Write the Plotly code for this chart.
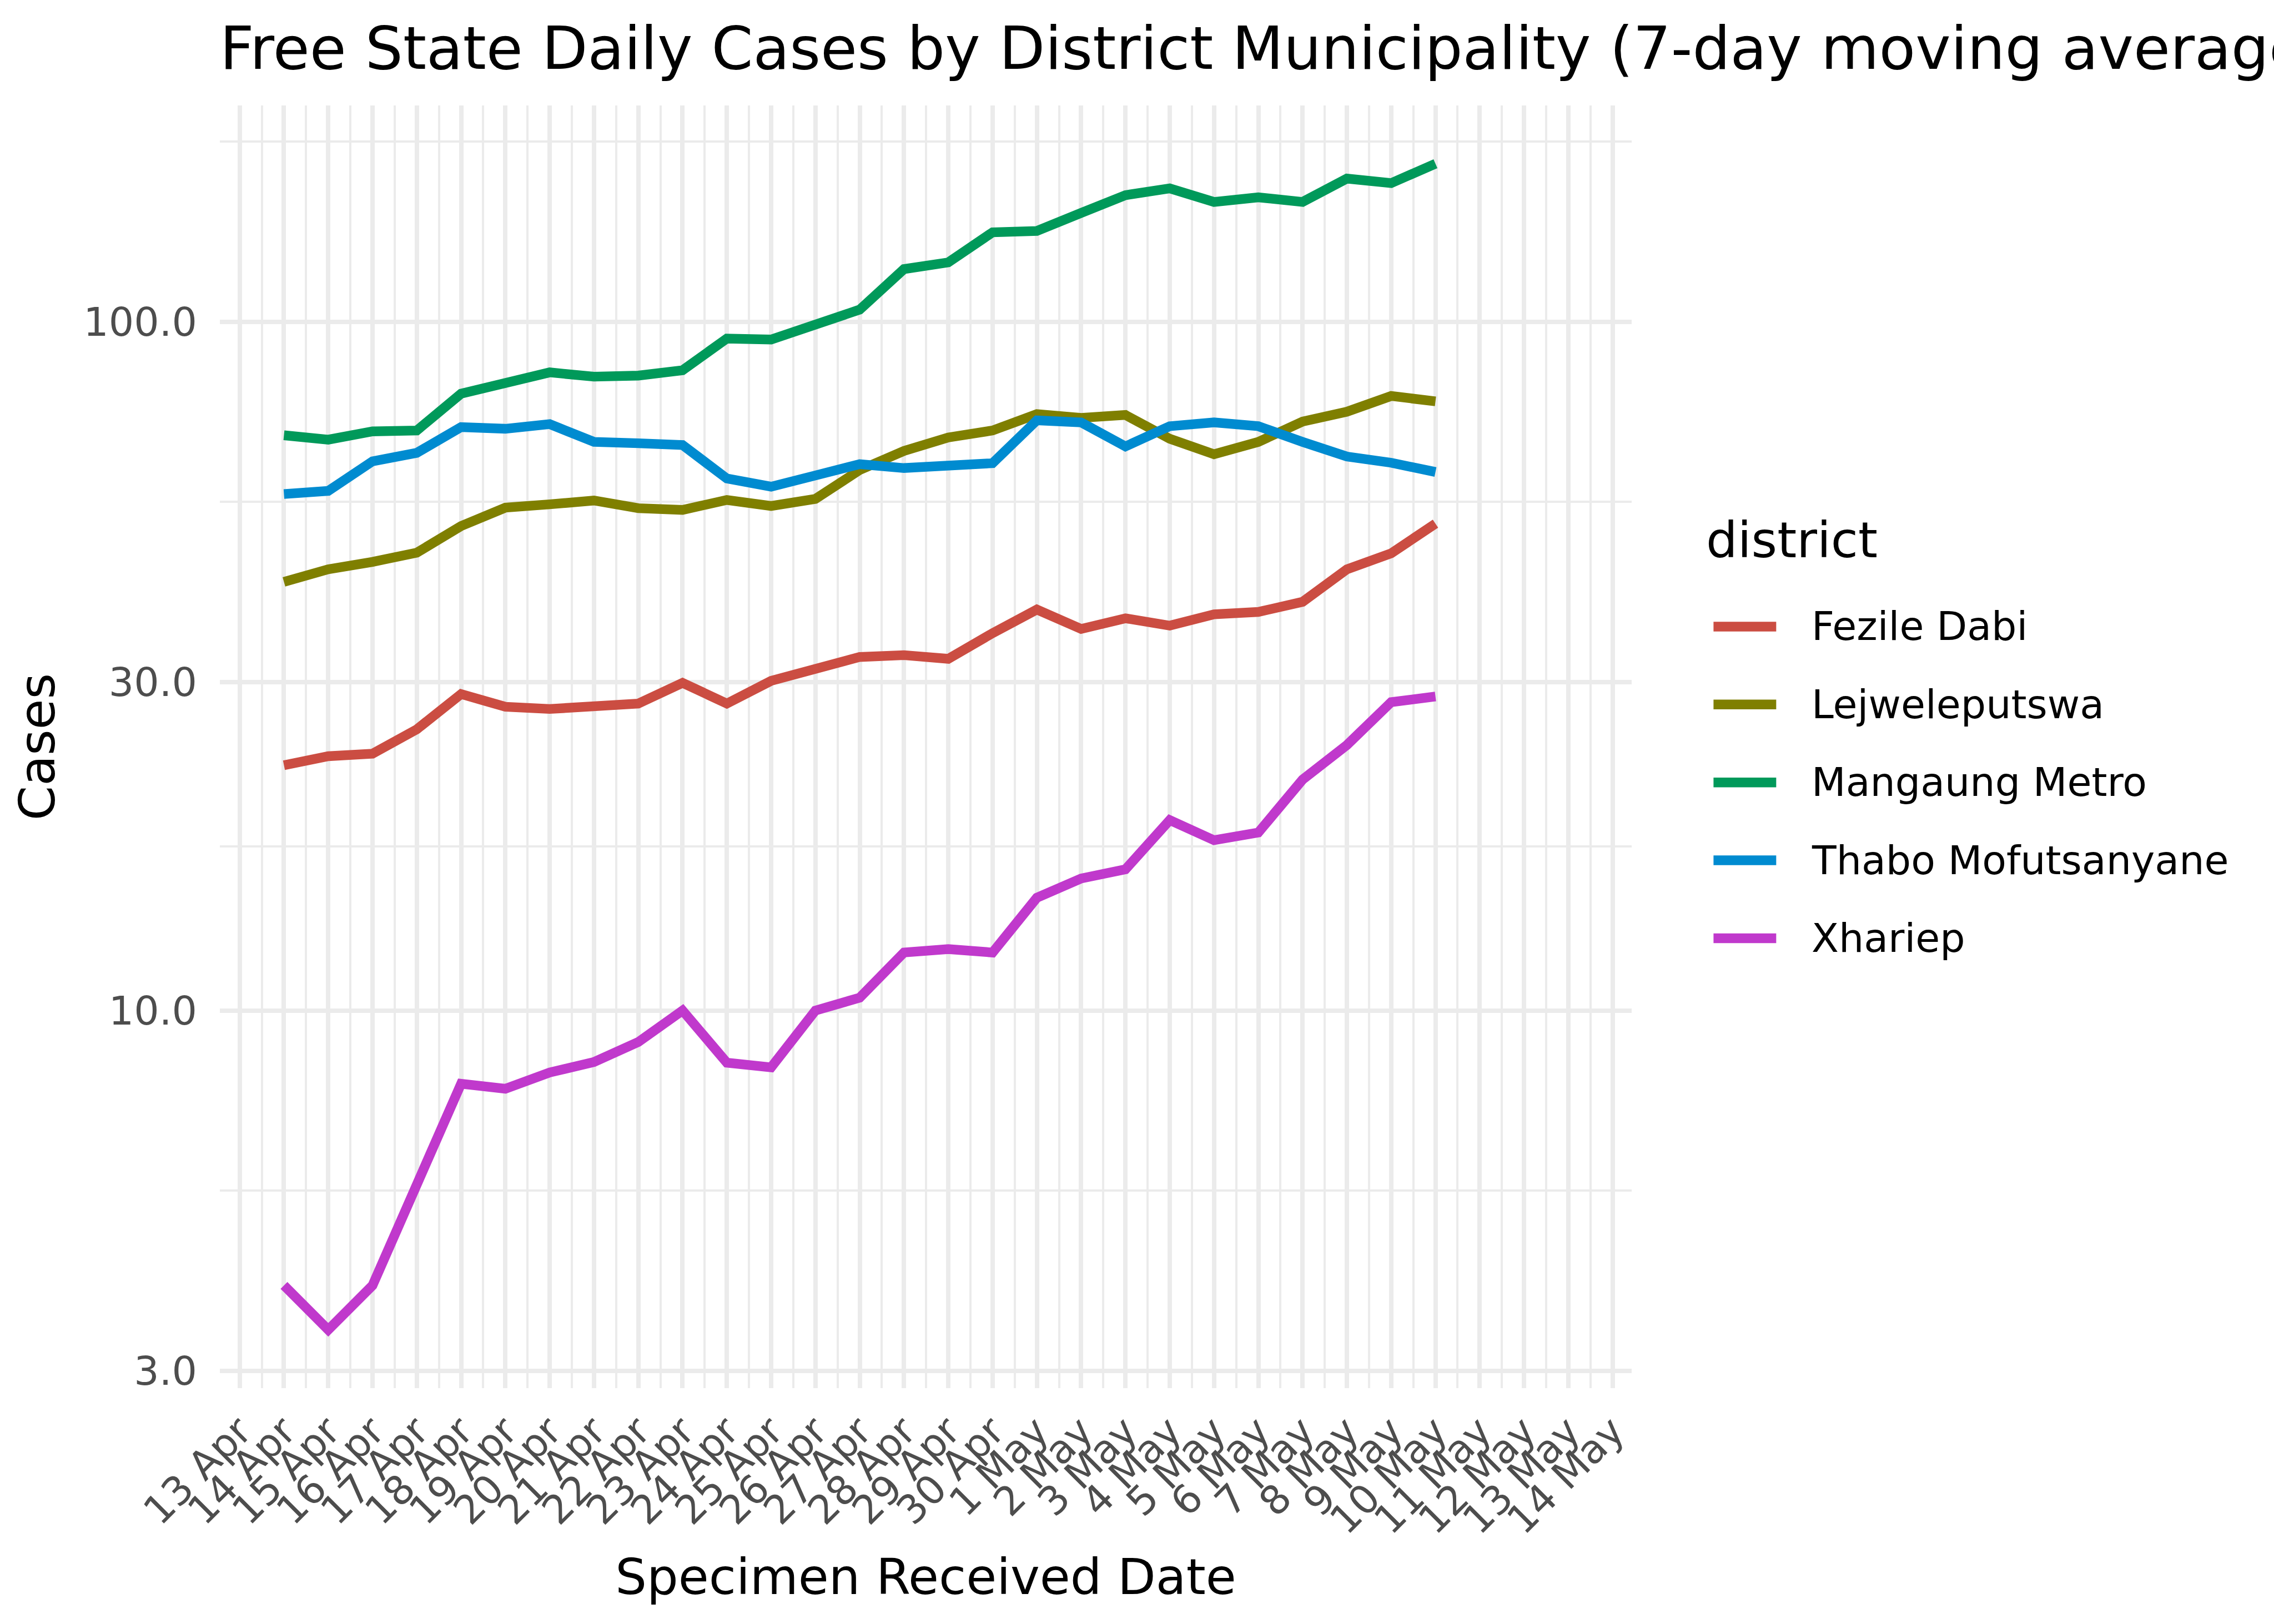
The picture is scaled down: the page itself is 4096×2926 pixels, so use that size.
import math
import pandas as pd
import plotly.graph_objects as go

# ---------------- data ----------------
dates = pd.date_range("2020-04-14", "2020-05-10", freq="D")

districts = ["Fezile Dabi", "Lejweleputswa", "Mangaung Metro",
             "Thabo Mofutsanyane", "Xhariep"]

fezile_dabi = [22.7, 23.4, 23.6, 25.6, 28.8, 27.6, 27.4, 27.6, 27.9, 29.9,
               27.9, 30.1, 31.2, 32.6, 32.8, 32.4, 35.3, 38.2, 35.8, 37.1,
               36.2, 37.6, 37.9, 39.2, 43.7, 46.1, 50.9]
lejweleputswa = [41.9, 43.7, 44.8, 46.2, 50.5, 53.7, 54.3, 55.0, 53.6, 53.3,
                 55.1, 54.0, 55.3, 60.9, 64.9, 67.9, 69.5, 73.4, 72.5, 73.2,
                 67.6, 64.2, 66.9, 71.6, 74.0, 78.0, 76.6]
mangaung_metro = [68.4, 67.4, 69.3, 69.5, 78.6, 81.4, 84.4, 83.2, 83.5, 85.0,
                  94.5, 94.2, 98.8, 104.1, 119.2, 121.9, 134.8, 135.4, 143.8,
                  152.6, 156.1, 149.2, 151.5, 149.2, 161.3, 158.9, 169.5]
thabo_mofutsanyane = [56.2, 56.8, 62.7, 64.5, 70.3, 69.9, 71.0, 66.9, 66.6,
                      66.2, 59.2, 57.6, 59.8, 62.1, 61.3, 61.9, 62.3, 71.9,
                      71.4, 65.9, 70.5, 71.4, 70.5, 66.9, 63.7, 62.4, 60.5]
xhariep = [3.99, 3.44, 3.99, 5.60, 7.83, 7.70, 8.13, 8.42, 9.00, 10.0, 8.40,
           8.27, 10.0, 10.44, 12.14, 12.28, 12.14, 14.58, 15.55, 16.03, 18.90,
           17.67, 18.13, 21.64, 24.29, 28.03, 28.57]

series = [fezile_dabi, lejweleputswa, mangaung_metro, thabo_mofutsanyane, xhariep]

y_breaks = [3, 10, 30, 100]
y_break_labels = ["3.0", "10.0", "30.0", "100.0"]

x_tick_start = "2020-04-13"
x_range = ["2020-04-12 13:16", "2020-05-14 10:19"]

# ---------------- styling ----------------
colors = ["#CB4D42", "#7F7F00", "#00995A", "#008BD0", "#C039CC"]
FONT = "DejaVu Sans"
W, H = 4096, 2926
# plot area in pixels
PL, PR, PT, PB = 396.2, 2938.7, 190.1, 2501.5


def paper_x(px):
    return (px - PL) / (PR - PL)


def paper_y(py):
    return (PB - py) / (PB - PT)


# y range like ggplot (5% expansion in log space)
all_vals = [v for s in series for v in s]
lo, hi = math.log10(min(all_vals)), math.log10(max(all_vals))
span = hi - lo
y_range = [lo - 0.05 * span, hi + 0.05 * span]

# minor breaks: geometric midpoints of the major breaks (plus one beyond each end)
logb = [math.log10(b) for b in y_breaks]
mids = [(a + b) / 2 for a, b in zip(logb[:-1], logb[1:])]
step_lo = logb[1] - logb[0]
step_hi = logb[-1] - logb[-2]
mids = [logb[0] - step_lo / 2] + mids + [logb[-1] + step_hi / 2]
y_minor = [10 ** m for m in mids]

fig = go.Figure()
for name, vals, col in zip(districts, series, colors):
    fig.add_trace(go.Scatter(
        x=dates, y=vals, mode="lines", name=name,
        line=dict(color=col, width=17.4),
        showlegend=False,
    ))

# ---------------- manual legend (ggplot-style) ----------------
shapes = []
annotations = []
key_x0, key_x1 = 3086.1, 3199.0
label_x = 3260.4
first_key_y = 1129.2
key_step = 140.4
for i, (name, col) in enumerate(zip(districts, colors)):
    yc = first_key_y + i * key_step
    shapes.append(dict(
        type="line", xref="paper", yref="paper",
        x0=paper_x(key_x0), x1=paper_x(key_x1),
        y0=paper_y(yc), y1=paper_y(yc),
        line=dict(color=col, width=17.4),
    ))
    annotations.append(dict(
        text=name, xref="paper", yref="paper",
        x=paper_x(label_x), y=paper_y(yc),
        xanchor="left", yanchor="middle", showarrow=False,
        font=dict(family=FONT, size=71.5, color="black"),
    ))
annotations.append(dict(
    text="district", xref="paper", yref="paper",
    x=paper_x(3071.0), y=paper_y(972.8),
    xanchor="left", yanchor="middle", showarrow=False,
    font=dict(family=FONT, size=89.4, color="black"),
))

fig.update_layout(
    width=W, height=H,
    margin=dict(l=PL, r=W - PR, t=PT, b=H - PB, pad=0),
    paper_bgcolor="white", plot_bgcolor="white",
    font=dict(family=FONT, color="black"),
    title=dict(
        text="Free State Daily Cases by District Municipality (7-day moving average)",
        font=dict(family=FONT, size=107.3, color="black"),
        xref="paper", x=0, xanchor="left",
        yref="container", y=1 - 48.7 / H, yanchor="top",
    ),
    xaxis=dict(
        type="date", range=x_range,
        tickmode="linear", tick0=x_tick_start, dtick=86400000,
        tickformat="%-d %b", tickangle=-45,
        ticks="", showline=False, zeroline=False,
        showgrid=True, gridcolor="#EBEBEB", gridwidth=8,
        minor=dict(tickmode="linear", tick0=x_tick_start, dtick=43200000,
                   showgrid=True, gridcolor="#EBEBEB", gridwidth=4, ticks=""),
        tickfont=dict(family=FONT, size=71.5, color="#4D4D4D"),
        ticklabelstandoff=20,
        title=dict(text="Specimen Received Date", standoff=30,
                   font=dict(family=FONT, size=89.4, color="black")),
        automargin=False,
    ),
    yaxis=dict(
        type="log", range=y_range,
        tickmode="array", tickvals=y_breaks, ticktext=y_break_labels,
        ticks="", showline=False, zeroline=False,
        showgrid=True, gridcolor="#EBEBEB", gridwidth=8,
        minor=dict(tickmode="array", tickvals=y_minor,
                   showgrid=True, gridcolor="#EBEBEB", gridwidth=4, ticks=""),
        tickfont=dict(family=FONT, size=71.5, color="#4D4D4D"),
        ticklabelstandoff=40,
        title=dict(text="Cases", standoff=22,
                   font=dict(family=FONT, size=89.4, color="black")),
        automargin=False,
    ),
    shapes=shapes,
    annotations=annotations,
)

fig.write_html("out.html")
